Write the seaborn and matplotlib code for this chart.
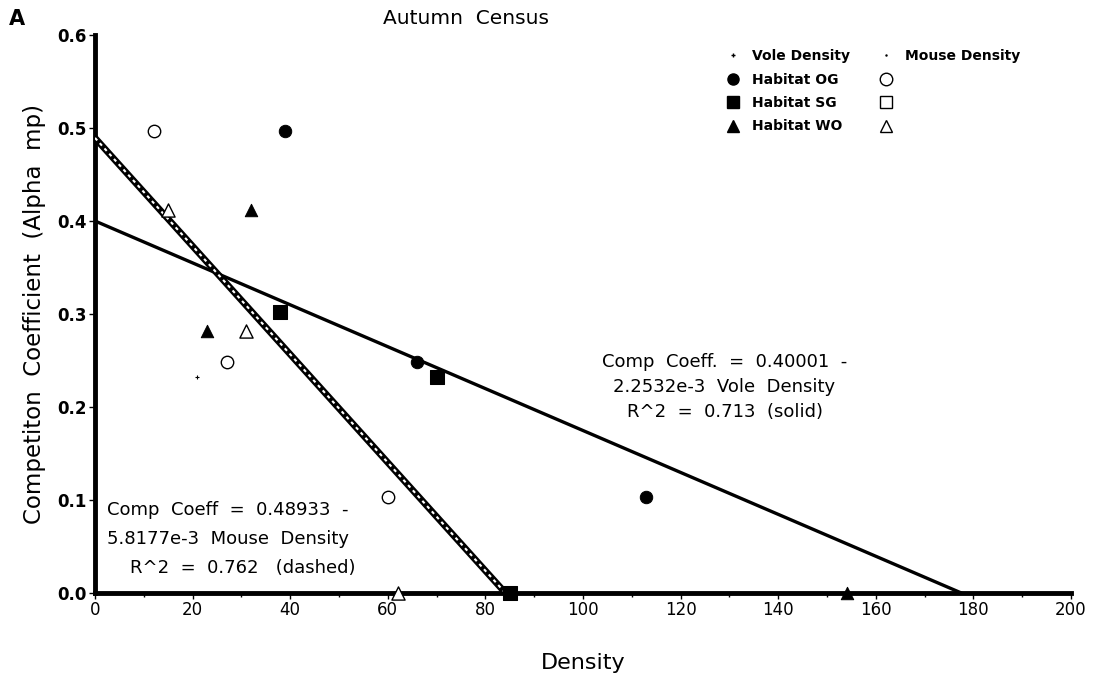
import numpy as np
import pandas as pd
import seaborn as sns
import matplotlib.pyplot as plt
from matplotlib.lines import Line2D
from matplotlib.ticker import MultipleLocator

# -----------------------------
# Data
# -----------------------------
vole_og_x = [39, 66, 113]
vole_og_y = [0.497, 0.248, 0.103]
vole_sg_x = [38, 70, 85]
vole_sg_y = [0.302, 0.232, 0.0]
vole_wo_x = [32, 23, 154]
vole_wo_y = [0.412, 0.282, 0.0]
vole_other_x = [21]
vole_other_y = [0.232]

mouse_og_x = [12, 27, 60]
mouse_og_y = [0.497, 0.248, 0.103]
mouse_wo_x = [15, 31, 62]
mouse_wo_y = [0.412, 0.282, 0.0]

# regression fits
vole_b0, vole_b1 = 0.40001, -2.2532e-3
mouse_b0, mouse_b1 = 0.48933, -5.8177e-3

sns.set_theme(style="white")
plt.rcParams['font.family'] = ['DejaVu Sans']
plt.rcParams['text.color'] = 'black'
plt.rcParams['axes.labelcolor'] = 'black'
plt.rcParams['xtick.color'] = 'black'
plt.rcParams['ytick.color'] = 'black'

fig = plt.figure(figsize=(11.02, 6.82), dpi=100)
ax = fig.add_axes([0.0862, 0.1305, 0.8857, 0.8182])

# -----------------------------
# Fitted lines
# -----------------------------
xv = np.array([0, -vole_b0 / vole_b1])
sns.lineplot(x=xv, y=vole_b0 + vole_b1 * xv, ax=ax, color='black', lw=2.4)
xm = np.array([0, -mouse_b0 / mouse_b1])
sns.lineplot(x=xm, y=mouse_b0 + mouse_b1 * xm, ax=ax, color='black', lw=4.8)
ax.plot(xm, mouse_b0 + mouse_b1 * xm, color='white', lw=1.5,
        linestyle=(0, (1.6, 1.8)), zorder=3)

# -----------------------------
# Points
# -----------------------------
ms = 80
common = dict(ax=ax, zorder=5, clip_on=False)
sns.scatterplot(x=vole_og_x, y=vole_og_y, marker='o', s=ms, color='black', edgecolor='black', **common)
sns.scatterplot(x=vole_sg_x, y=vole_sg_y, marker='s', s=ms + 10, color='black', edgecolor='black', **common)
sns.scatterplot(x=vole_wo_x, y=vole_wo_y, marker='^', s=ms, color='black', edgecolor='black', **common)
sns.scatterplot(x=vole_other_x, y=vole_other_y, marker='+', s=12, color='black', linewidth=0.8, **common)
sns.scatterplot(x=mouse_og_x, y=mouse_og_y, marker='o', s=ms, facecolor='white', edgecolor='black', linewidth=1, **common)
sns.scatterplot(x=mouse_wo_x, y=mouse_wo_y, marker='^', s=ms + 10, facecolor='white', edgecolor='black', linewidth=1, **common)

# -----------------------------
# Axes styling
# -----------------------------
ax.set_xlim(0, 200)
ax.set_ylim(0, 0.6)
ax.xaxis.set_major_locator(MultipleLocator(20))
ax.xaxis.set_minor_locator(MultipleLocator(10))
ax.yaxis.set_major_locator(MultipleLocator(0.1))
ax.set_xticks(ax.get_xticks())
ax.set_xticklabels([f"{int(v)}" for v in ax.get_xticks()], fontsize=12)
ax.set_yticklabels([f"{v:.1f}" for v in ax.get_yticks()], fontsize=12, fontweight='bold')
ax.set_xlim(0, 200)
ax.set_ylim(0, 0.6)
ax.tick_params(axis='both', which='both', direction='out', colors='black')
ax.tick_params(axis='both', which='major', length=4, width=1, pad=2)
ax.tick_params(axis='x', which='minor', length=3, width=1, bottom=True)
ax.tick_params(axis='y', left=True)
ax.tick_params(axis='x', bottom=True)
sns.despine(ax=ax)
for side in ['left', 'bottom']:
    ax.spines[side].set_linewidth(3.5)
    ax.spines[side].set_color('black')
ax.grid(False)

ax.set_xlabel("Density", fontsize=16, labelpad=24)
ax.set_ylabel("Competiton  Coefficient  (Alpha  mp)", fontsize=16.5, labelpad=8)
fig.text(0.423, 0.973, "Autumn  Census", fontsize=14.5, ha='center', va='center')
fig.text(0.008, 0.972, "A", fontsize=15, fontweight='bold', va='center')

# equation annotations
ax.text(129, 0.222, "Comp  Coeff.  =  0.40001  -\n2.2532e-3  Vole  Density\nR^2  =  0.713  (solid)",
        ha='center', va='center', fontsize=13, linespacing=1.5)
ax.text(2.4, 0.058, "Comp  Coeff  =  0.48933  -\n5.8177e-3  Mouse  Density\n    R^2  =  0.762   (dashed)",
        ha='left', va='center', fontsize=13, linespacing=1.8)

# -----------------------------
# Legend
# -----------------------------
handles = [
    Line2D([], [], linestyle='none', marker='+', color='black', markersize=3),
    Line2D([], [], linestyle='none', marker='o', color='black', markersize=8),
    Line2D([], [], linestyle='none', marker='s', color='black', markersize=8),
    Line2D([], [], linestyle='none', marker='^', color='black', markersize=8),
    Line2D([], [], linestyle='none', marker='.', color='black', markersize=1.5),
    Line2D([], [], linestyle='none', marker='o', markerfacecolor='white', markeredgecolor='black', markersize=9),
    Line2D([], [], linestyle='none', marker='s', markerfacecolor='white', markeredgecolor='black', markersize=9),
    Line2D([], [], linestyle='none', marker='^', markerfacecolor='white', markeredgecolor='black', markersize=9),
]
labels = ["Vole Density", "Habitat OG", "Habitat SG", "Habitat WO",
          "Mouse Density", "", "", ""]
leg = ax.legend(handles, labels, ncol=2, loc='upper left', bbox_to_anchor=(0.63, 0.997),
                frameon=False, prop={'size': 10, 'weight': 'bold'},
                handletextpad=0.6, columnspacing=1.9, labelspacing=0.68, handlelength=1.5)

fig.savefig("out.png", dpi=100)
